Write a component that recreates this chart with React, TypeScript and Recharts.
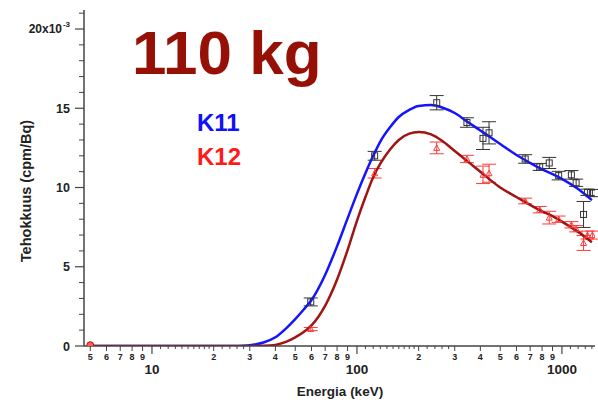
import React from 'react';
import { ComposedChart, Line, Scatter, ErrorBar, XAxis, YAxis } from 'recharts';

// fitted efficiency curves (cpm/Bq, x10^-3)
const curveEnergy = [5, 10, 20, 25, 28, 30, 35, 40, 45, 50, 55, 60, 70, 80, 90, 100, 110, 120, 130, 145, 160, 180, 200, 230, 260, 300, 350, 400, 450, 500, 600, 700, 800, 900, 1000, 1200, 1400];
const k11Fit = [0, 0, 0, 0, 0.02, 0.05, 0.22, 0.55, 1.1, 1.7, 2.3, 2.9, 4.5, 6.3, 8.05, 9.6, 10.9, 12.0, 12.9, 13.8, 14.45, 14.9, 15.15, 15.2, 15.05, 14.7, 14.1, 13.6, 13.15, 12.75, 12.05, 11.55, 11.15, 10.85, 10.55, 9.9, 9.2];
const k12Fit = [0, 0, 0, 0, 0, 0, 0.01, 0.07, 0.26, 0.55, 0.88, 1.3, 2.55, 4.2, 6.05, 7.9, 9.4, 10.65, 11.5, 12.4, 13.0, 13.4, 13.5, 13.35, 12.95, 12.3, 11.6, 11.0, 10.45, 10.0, 9.4, 8.9, 8.5, 8.2, 7.85, 7.2, 6.55];

// measured points
const pointEnergy = [59.5, 122, 245, 344, 412, 441, 662, 779, 867, 964, 1112, 1173, 1275, 1332, 1408];
const k11Values = [2.78, 12.0, 15.35, 14.1, 13.1, 13.45, 11.8, 11.3, 11.55, 10.75, 10.8, 10.3, 8.3, 9.7, 9.65];
const k11Errors = [0.25, 0.28, 0.45, 0.3, 0.7, 0.7, 0.27, 0.22, 0.35, 0.27, 0.27, 0.23, 0.82, 0.2, 0.23];
const k12Values = [1.07, 10.9, 12.5, 11.8, 10.8, 10.9, 9.15, 8.6, 8.1, 8.0, 7.65, 7.4, 6.5, 7.0, 7.0];
const k12Errors = [0.1, 0.3, 0.37, 0.23, 0.55, 0.57, 0.18, 0.2, 0.4, 0.2, 0.2, 0.2, 0.47, 0.25, 0.25];
const lowPoint = [{ x: 5, y: 0.05 }];

// tick labels
const xTicksMajor = [10, 100, 1000];
const xTicksDigit = [5, 6, 7, 8, 9, 20, 30, 40, 50, 60, 70, 80, 90, 200, 300, 400, 500, 600, 700, 800, 900];
const xTicksMinor = [11, 12, 13, 14, 15, 16, 17, 18, 19, 22, 24, 26, 28, 110, 120, 130, 140, 150, 160, 170, 180, 190, 220, 240, 260, 280, 1100, 1200, 1300, 1400];
const yTicksMajor = [0, 5, 10, 15, 20];
const yTicksAll = [0, 1, 2, 3, 4, 5, 6, 7, 8, 9, 10, 11, 12, 13, 14, 15, 16, 17, 18, 19, 20, 21];

const k11Curve = curveEnergy.map((x, i) => ({ x, y: k11Fit[i] }));
const k12Curve = curveEnergy.map((x, i) => ({ x, y: k12Fit[i] }));
const k11Points = pointEnergy.map((x, i) => ({ x, y: k11Values[i], err: k11Errors[i] }));
const k12Points = pointEnergy.map((x, i) => ({ x, y: k12Values[i], err: k12Errors[i] }));
const xTicksAll = [...xTicksDigit, ...xTicksMajor, ...xTicksMinor].sort((a, b) => a - b);

const FONT = '"Liberation Sans", Arial, sans-serif';
const AXIS = '#444';
const TEXT = '#222';

const XTick = (props: any) => {
  const { x, y, payload } = props;
  const v = payload.value;
  if (xTicksMajor.includes(v)) {
    return (
      <g>
        <line x1={x} x2={x} y1={y} y2={y + 8} stroke={AXIS} strokeWidth={1.2} />
        <text x={x} y={y + 28} textAnchor="middle" fontSize={13.5} fontWeight="bold" fontFamily={FONT} fill={TEXT}>{v}</text>
      </g>
    );
  }
  if (xTicksDigit.includes(v)) {
    const digit = String(v)[0];
    return (
      <g>
        <line x1={x} x2={x} y1={y} y2={y + 5} stroke={AXIS} strokeWidth={1} />
        <text x={x} y={y + 14} textAnchor="middle" fontSize={9} fontWeight="bold" fontFamily={FONT} fill={TEXT}>{digit}</text>
      </g>
    );
  }
  return <line x1={x} x2={x} y1={y} y2={y + 3} stroke={AXIS} strokeWidth={1} />;
};

const YTick = (props: any) => {
  const { x, y, payload } = props;
  const v = payload.value;
  if (!yTicksMajor.includes(v)) {
    return <line x1={x - 5} x2={x} y1={y} y2={y} stroke={AXIS} strokeWidth={1} />;
  }
  return (
    <g>
      <line x1={x - 9} x2={x} y1={y} y2={y} stroke={AXIS} strokeWidth={1.2} />
      {v === 20 ? (
        <text x={x - 22} y={y + 4} textAnchor="end" fontSize={12} fontWeight="bold" fontFamily={FONT} fill={TEXT}>
          20x10
          <tspan x={x - 14} dy={-6} textAnchor="end" fontSize={8}>-3</tspan>
        </text>
      ) : (
        <text x={x - 14} y={y + 4.5} textAnchor="end" fontSize={12.5} fontWeight="bold" fontFamily={FONT} fill={TEXT}>{v}</text>
      )}
    </g>
  );
};

const Square = (props: any) => {
  const { cx, cy } = props;
  return <rect x={cx - 3} y={cy - 3} width={6} height={6} fill="none" stroke="#333" strokeWidth={1} />;
};

const Triangle = (props: any) => {
  const { cx, cy } = props;
  return <path d={`M${cx},${cy - 3} L${cx + 3},${cy + 2.5} L${cx - 3},${cy + 2.5} Z`} fill="none" stroke="#ff3b3b" strokeWidth={1} />;
};

const Dot = (props: any) => {
  const { cx, cy } = props;
  return <circle cx={cx} cy={cy} r={3.5} fill="#ff5a5a" stroke="#b01010" strokeWidth={1} />;
};

export default function App() {
  return (
    <div style={{ position: 'absolute', left: 0, top: 0, width: 598, height: 402, background: '#fff' }}>
      <ComposedChart width={598} height={402} margin={{ top: 10, right: 3, bottom: 0, left: 0 }}>
        <XAxis
          dataKey="x"
          type="number"
          scale="log"
          domain={[4.66, 1450]}
          allowDataOverflow
          ticks={xTicksAll}
          interval={0}
          tick={<XTick />}
          tickLine={false}
          tickSize={0}
          tickMargin={0}
          height={56}
          axisLine={{ stroke: AXIS, strokeWidth: 1.5 }}
        />
        <YAxis
          dataKey="y"
          type="number"
          domain={[0, 21.2]}
          allowDataOverflow
          ticks={yTicksAll}
          interval={0}
          tick={<YTick />}
          tickLine={false}
          tickSize={0}
          tickMargin={0}
          width={84}
          axisLine={{ stroke: AXIS, strokeWidth: 1.5 }}
        />
        <Scatter data={k11Points} dataKey="y" shape={<Square />} isAnimationActive={false}>
          <ErrorBar dataKey="err" direction="y" width={7} stroke="#333" strokeWidth={1} />
        </Scatter>
        <Scatter data={k12Points} dataKey="y" shape={<Triangle />} isAnimationActive={false}>
          <ErrorBar dataKey="err" direction="y" width={7} stroke="#ff3b3b" strokeWidth={1} />
        </Scatter>
        <Line data={k11Curve} dataKey="y" type="monotone" stroke="#1414ff" strokeWidth={2.5} dot={false} isAnimationActive={false} />
        <Line data={k12Curve} dataKey="y" type="monotone" stroke="#a01414" strokeWidth={2.5} dot={false} isAnimationActive={false} />
        <Scatter data={lowPoint} dataKey="y" shape={<Dot />} isAnimationActive={false} />
      </ComposedChart>
      <svg width={598} height={402} style={{ position: 'absolute', left: 0, top: 0, pointerEvents: 'none' }}>
        <text x={132} y={74} fontSize={62} fontWeight="bold" fontFamily={FONT} fill="#961005">110 kg</text>
        <text x={197} y={131} fontSize={24} fontWeight="bold" fontFamily={FONT} fill="#1010ff">K11</text>
        <text x={197} y={165} fontSize={24} fontWeight="bold" fontFamily={FONT} fill="#ff1a1a">K12</text>
        <text x={340} y={396} textAnchor="middle" fontSize={13.5} fontWeight="bold" fontFamily={FONT} fill={TEXT}>Energia (keV)</text>
        <text x={31} y={191} textAnchor="middle" fontSize={14.5} fontWeight="bold" fontFamily={FONT} fill={TEXT} transform="rotate(-90 31 191)">Tehokkuus (cpm/Bq)</text>
      </svg>
    </div>
  );
}
